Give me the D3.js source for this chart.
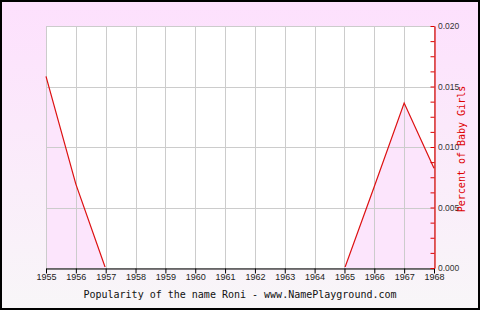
<!DOCTYPE html>
<html lang="en">
<head>
<meta charset="UTF-8">
<title>Roni</title>
<style>
  html, body { margin: 0; padding: 0; background: #fff; }
  svg { display: block; }
</style>
</head>
<body>
<svg id="chart" width="480" height="310"></svg>
<script src="https://d3js.org/d3.v7.min.js"></script>
<script>

var years = [1955, 1956, 1957, 1958, 1959, 1960, 1961, 1962, 1963, 1964, 1965, 1966, 1967, 1968];
var percents = [0.0159, 0.0070, 0, 0, 0, 0, 0, 0, 0, 0, 0, 0.0068, 0.0137, 0.0083];
var yTicks = [0, 0.005, 0.010, 0.015, 0.020];
var titleText = "Popularity of the name Roni - www.NamePlayground.com";
var yTitle = "Percent of Baby Girls";

var svg = d3.select("#chart"),
  width = 480,
  height = 310,
  plotL = 46, plotR = 434, plotT = 26, plotB = 268;

var x = d3.scaleLinear().domain([1955, 1968]).range([plotL, plotR]);
var y = d3.scaleLinear().domain([0, 0.02]).range([plotB, plotT]);

// background gradient
var defs = svg.append("defs");
var grad = defs.append("linearGradient")
  .attr("id", "bg").attr("x1", 0).attr("y1", 0).attr("x2", 0).attr("y2", 1);
grad.append("stop").attr("offset", "0%").attr("stop-color", "#fde0fd");
grad.append("stop").attr("offset", "100%").attr("stop-color", "#f8f6f8");

defs.append("clipPath").attr("id", "plotclip")
  .append("rect")
  .attr("x", plotL - 2).attr("y", plotT - 2)
  .attr("width", plotR - plotL + 4).attr("height", plotB - plotT + 1);

svg.append("rect")
  .attr("x", 1).attr("y", 1).attr("width", width - 2).attr("height", height - 2)
  .attr("fill", "url(#bg)").attr("stroke", "#000").attr("stroke-width", 2);

svg.append("rect")
  .attr("x", plotL).attr("y", plotT).attr("width", plotR - plotL).attr("height", plotB - plotT)
  .attr("fill", "#fff");

var data = years.map(function (d, i) { return { year: d, v: percents[i] }; });

// area under line
svg.append("path")
  .datum(data)
  .attr("fill", "#fce5fc")
  .attr("d", d3.area().x(function (d) { return x(d.year); }).y0(y(0)).y1(function (d) { return y(d.v); }));

// grid
svg.append("g")
  .selectAll("line").data(years).join("line")
  .attr("x1", function (d) { return Math.round(x(d)) + 0.5; })
  .attr("x2", function (d) { return Math.round(x(d)) + 0.5; })
  .attr("y1", plotT).attr("y2", plotB)
  .attr("stroke", "#cccccc").attr("stroke-width", 1);

svg.append("g")
  .selectAll("line").data(yTicks).join("line")
  .attr("x1", plotL).attr("x2", plotR)
  .attr("y1", function (d) { return Math.round(y(d)) + 0.5; })
  .attr("y2", function (d) { return Math.round(y(d)) + 0.5; })
  .attr("stroke", "#cccccc").attr("stroke-width", 1);

// line
svg.append("path")
  .datum(data)
  .attr("clip-path", "url(#plotclip)")
  .attr("fill", "none")
  .attr("stroke", "#dd1111")
  .attr("stroke-width", 1.2)
  .attr("d", d3.line().x(function (d) { return x(d.year); }).y(function (d) { return y(d.v) + 0.8; }));

// bottom axis
var xAxis = d3.axisBottom(x)
  .tickValues(years)
  .tickFormat(d3.format("d"))
  .tickSize(5)
  .tickSizeOuter(0);

var gx = svg.append("g")
  .attr("transform", "translate(0," + (plotB + 0.5) + ")")
  .call(xAxis);
gx.select(".domain").attr("stroke", "#000");
gx.selectAll(".tick line").attr("stroke", "#000");
gx.selectAll(".tick text")
  .attr("fill", "#222")
  .attr("dy", "0.95em")
  .attr("y", 3)
  .style("font-family", "'Liberation Sans', Arial, sans-serif")
  .style("font-size", "9px");

// right axis, ticks pointing inward, minor every 0.00125
var minor = d3.range(0, 17).map(function (i) { return i * 0.00125; });
var yAxisMinor = d3.axisRight(y)
  .tickValues(minor)
  .tickSize(-4)
  .tickSizeOuter(0)
  .tickFormat("");
var gy = svg.append("g")
  .attr("transform", "translate(" + (plotR + 0.5) + ",0)")
  .call(yAxisMinor);
gy.select(".domain").attr("stroke", "#dd0000").attr("stroke-width", 1.2);
gy.selectAll(".tick line").attr("stroke", "#dd0000");

var yAxisLabels = d3.axisRight(y)
  .tickValues(yTicks)
  .tickSize(0)
  .tickFormat(d3.format(".3f"));
var gyl = svg.append("g")
  .attr("transform", "translate(" + (plotR + 4) + ",0)")
  .call(yAxisLabels);
gyl.select(".domain").remove();
gyl.selectAll(".tick text")
  .attr("fill", "#333")
  .attr("x", 0)
  .style("font-family", "'Liberation Sans', Arial, sans-serif")
  .style("font-size", "8.5px");

// titles
svg.append("text")
  .attr("x", 240).attr("y", 298)
  .attr("text-anchor", "middle")
  .attr("fill", "#111")
  .style("font-family", "'DejaVu Sans Mono', monospace")
  .style("font-size", "10px")
  .text(titleText);

svg.append("text")
  .attr("transform", "translate(465,149) rotate(-90)")
  .attr("text-anchor", "middle")
  .attr("fill", "#dd0000")
  .style("font-family", "'DejaVu Sans Mono', monospace")
  .style("font-size", "10px")
  .text(yTitle);

</script>
</body>
</html>
